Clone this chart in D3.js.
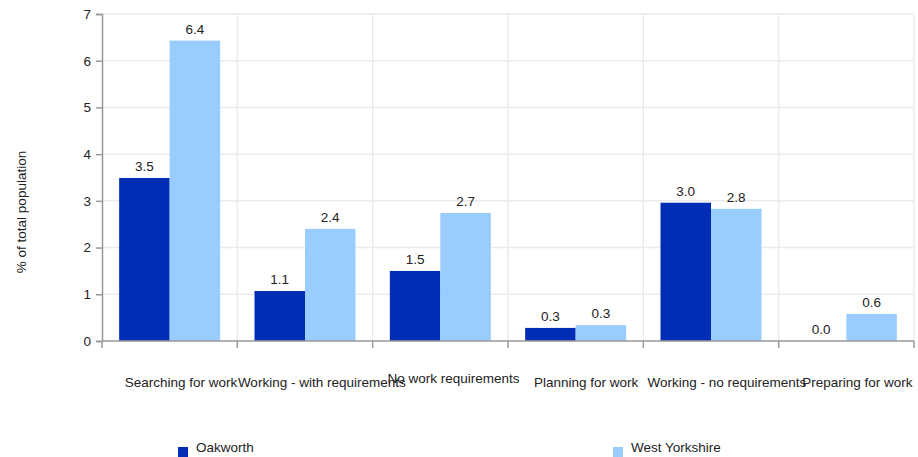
<!DOCTYPE html>
<html><head><meta charset="utf-8">
<script src="https://cdn.jsdelivr.net/npm/d3@7/dist/d3.min.js"></script>
<style>body{margin:0;background:#fff;font-family:"Liberation Sans",Arial,sans-serif;}</style>
</head><body><svg id="c" width="918" height="457"></svg>
<script>
const categories = ["Searching for work","Working - with requirements","No work requirements","Planning for work","Working - no requirements","Preparing for work"];
const seriesNames = ["Oakworth","West Yorkshire"];
const oakworth = [3.49, 1.07, 1.5, 0.28, 2.96, 0.0];
const westYorkshire = [6.43, 2.4, 2.74, 0.34, 2.83, 0.58];
const colors = ["#002db3","#99ccff"];
const yTicks = [0,1,2,3,4,5,6,7];
const yTitle = "% of total population";

const FS = 13.5;
const svg = d3.select("#c");
const L = 102, R = 914, T = 14, B = 341;
const x = d3.scaleBand().domain(categories).range([L, R]).paddingInner(0).paddingOuter(0);
const inner = d3.scaleBand().domain(seriesNames).range([0, x.bandwidth()]).paddingOuter(0.34).paddingInner(0);
const y = d3.scaleLinear().domain([0,7]).range([B, T]);

// grid
const g = svg.append("g");
g.selectAll(".hg").data(yTicks.slice(1)).enter().append("line")
 .attr("x1", L).attr("x2", R).attr("y1", d=>y(d)).attr("y2", d=>y(d))
 .attr("stroke", "#ebebeb").attr("stroke-width", 1.5);
const bounds = categories.map(c=>x(c)).concat([R]);
g.selectAll(".vg").data(bounds.slice(1)).enter().append("line")
 .attr("x1", d=>d).attr("x2", d=>d)
 .attr("y1", T).attr("y2", B).attr("stroke", "#ebebeb").attr("stroke-width", 1.5);

// bars
const series = [oakworth, westYorkshire];
series.forEach((vals, si) => {
  svg.append("g").selectAll("rect").data(vals).enter().append("rect")
    .attr("x", (d,i)=> x(categories[i]) + inner(seriesNames[si]))
    .attr("width", inner.bandwidth())
    .attr("y", d=>y(d)).attr("height", d=> B - y(d))
    .attr("fill", colors[si]);
  svg.append("g").selectAll("text").data(vals).enter().append("text")
    .attr("x", (d,i)=> x(categories[i]) + inner(seriesNames[si]) + inner.bandwidth()/2)
    .attr("y", d=> y(d) - 7)
    .attr("text-anchor","middle").attr("font-size", FS).attr("fill","#222")
    .text(d=> d3.format(".1f")(d));
});

// y axis
const ya = svg.append("g").attr("transform", `translate(${L},0)`)
  .call(d3.axisLeft(y).tickValues(yTicks).tickSize(6).tickPadding(5).tickFormat(d3.format("d")));
ya.select(".domain").attr("stroke","#999").attr("stroke-width",1.5);
ya.selectAll(".tick line").attr("stroke","#999").attr("stroke-width",1.5);
ya.selectAll(".tick text").attr("font-size", FS).attr("fill","#222").attr("font-family","Liberation Sans, Arial, sans-serif");

// x axis
const xa = svg.append("g").attr("transform", `translate(0,${B})`);
xa.append("line").attr("x1", L).attr("x2", R).attr("y1",0).attr("y2",0).attr("stroke","#999").attr("stroke-width",1.5);
xa.selectAll(".t").data(bounds).enter().append("line")
  .attr("x1", d=>d).attr("x2", d=>d).attr("y1",0).attr("y2",7).attr("stroke","#999").attr("stroke-width",1.5);
xa.selectAll(".l").data(categories).enter().append("text")
  .attr("y", (d,i)=> i === 2 ? 42 : 46)
  .attr("text-anchor","start").attr("font-size", FS).attr("fill","#222")
  .text(d=>d)
  .attr("x", function(d){ return x(d) + x.bandwidth()/2 - this.getComputedTextLength()*0.4; });

// y title
svg.append("text").attr("transform","translate(26,212) rotate(-90)")
  .attr("text-anchor","middle").attr("font-size",FS).attr("fill","#222").text(yTitle);

// legend
const legX = [178, 613];
seriesNames.forEach((n,i)=>{
  svg.append("rect").attr("x", legX[i]).attr("y", 447).attr("width", 10).attr("height", 10).attr("fill", colors[i]);
  svg.append("text").attr("x", legX[i]+18).attr("y", 452).attr("font-size",FS).attr("fill","#222").text(n);
});
</script></body></html>
